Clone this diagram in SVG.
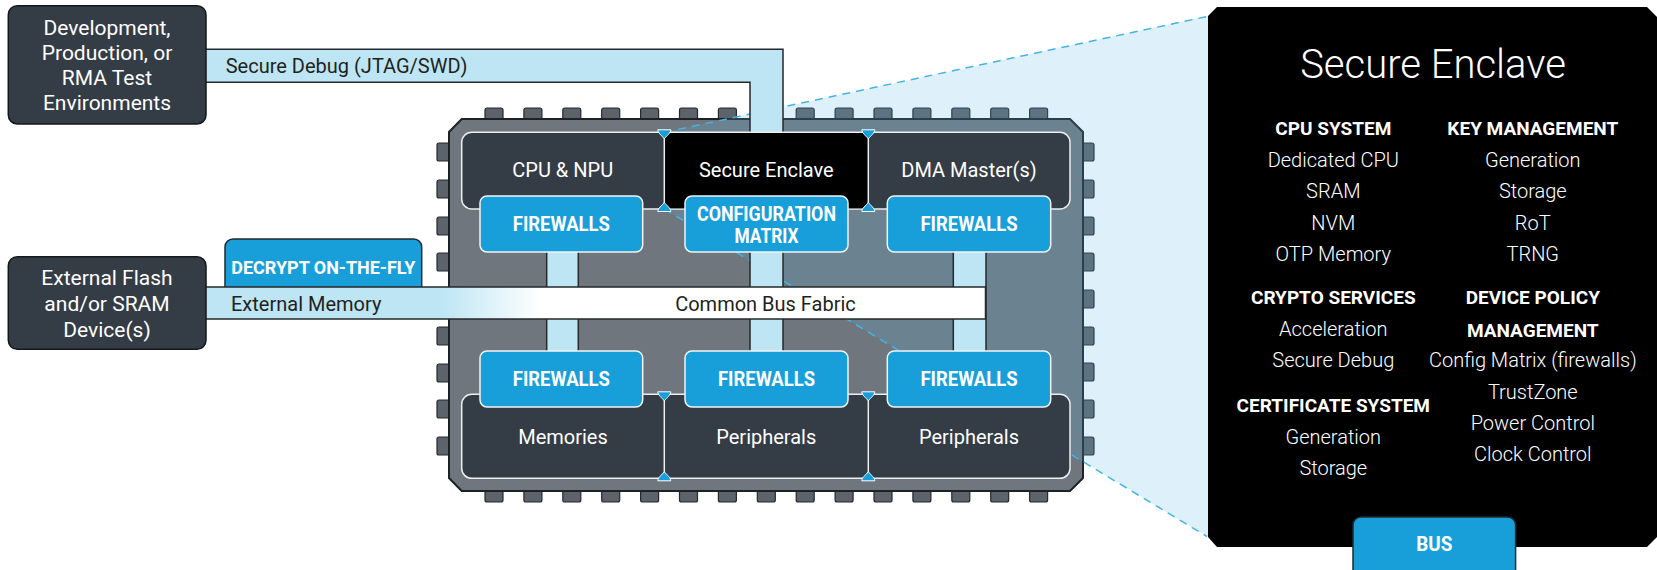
<svg xmlns="http://www.w3.org/2000/svg" width="1657" height="570" viewBox="0 0 1657 570">
<defs>
<style>
text{font-family:Roboto,"Liberation Sans",sans-serif}
.lbl{font-size:20px;fill:#fff;text-anchor:middle}
.lbl21{font-size:21px;fill:#fff;text-anchor:middle}
.dk{font-size:20px;fill:#231f20}
.bl{font-weight:700;font-size:20px;fill:#fff;text-anchor:middle}
.pin{fill:#5d636a;stroke:#25292d;stroke-width:1.2}
.bus{fill:#bde5f3;stroke:#25292d;stroke-width:1.5}
.fw{fill:#189fda;stroke:#f2f4f6;stroke-width:1.5}
.dash{stroke:#45b4e4;stroke-width:1.5;stroke-dasharray:8 6;fill:none}
.ext{fill:#343c46;stroke:#15181b;stroke-width:1.5}
.row{fill:#343c46;stroke:#eceef0;stroke-width:1.5}
.sep{stroke:#eceef0;stroke-width:1.5}
.mk{fill:#189fda;stroke:#fff;stroke-width:1}
.pl{font-size:20px;font-weight:300;fill:#fff;text-anchor:middle}
.title{font-size:40px;font-weight:300;fill:#fff;text-anchor:middle}
.ph{font-size:19px;font-weight:700;fill:#fff;text-anchor:middle}
</style>
<linearGradient id="gm" gradientUnits="userSpaceOnUse" x1="206" y1="0" x2="985" y2="0">
<stop offset="0.3" stop-color="#bde5f3"/><stop offset="0.43" stop-color="#ffffff"/>
</linearGradient>
<path id="mkd" d="M-6.5,-2.5 H6.5 C6.5,0.5 2.5,3.5 0,6.5 C-2.5,3.5 -6.5,0.5 -6.5,-2.5 Z"/>
</defs>

<g id="chip">
<g id="pins-top">
<rect class="pin" x="485" y="108" width="18" height="13" rx="2"/><rect class="pin" x="523.9" y="108" width="18" height="13" rx="2"/><rect class="pin" x="562.8" y="108" width="18" height="13" rx="2"/><rect class="pin" x="601.7" y="108" width="18" height="13" rx="2"/><rect class="pin" x="640.6" y="108" width="18" height="13" rx="2"/><rect class="pin" x="679.5" y="108" width="18" height="13" rx="2"/><rect class="pin" x="718.4" y="108" width="18" height="13" rx="2"/><rect class="pin" x="796.2" y="108" width="18" height="13" rx="2"/><rect class="pin" x="835.1" y="108" width="18" height="13" rx="2"/><rect class="pin" x="874" y="108" width="18" height="13" rx="2"/><rect class="pin" x="912.9" y="108" width="18" height="13" rx="2"/><rect class="pin" x="951.8" y="108" width="18" height="13" rx="2"/><rect class="pin" x="990.7" y="108" width="18" height="13" rx="2"/><rect class="pin" x="1029.6" y="108" width="18" height="13" rx="2"/>
</g>
<g id="pins-bottom">
<rect class="pin" x="485" y="489" width="18" height="13" rx="2"/><rect class="pin" x="523.9" y="489" width="18" height="13" rx="2"/><rect class="pin" x="562.8" y="489" width="18" height="13" rx="2"/><rect class="pin" x="601.7" y="489" width="18" height="13" rx="2"/><rect class="pin" x="640.6" y="489" width="18" height="13" rx="2"/><rect class="pin" x="679.5" y="489" width="18" height="13" rx="2"/><rect class="pin" x="718.4" y="489" width="18" height="13" rx="2"/><rect class="pin" x="757.3" y="489" width="18" height="13" rx="2"/><rect class="pin" x="796.2" y="489" width="18" height="13" rx="2"/><rect class="pin" x="835.1" y="489" width="18" height="13" rx="2"/><rect class="pin" x="874" y="489" width="18" height="13" rx="2"/><rect class="pin" x="912.9" y="489" width="18" height="13" rx="2"/><rect class="pin" x="951.8" y="489" width="18" height="13" rx="2"/><rect class="pin" x="990.7" y="489" width="18" height="13" rx="2"/><rect class="pin" x="1029.6" y="489" width="18" height="13" rx="2"/>
</g>
<g id="pins-left">
<rect class="pin" x="437" y="143" width="14" height="18" rx="2"/><rect class="pin" x="437" y="180" width="14" height="18" rx="2"/><rect class="pin" x="437" y="217" width="14" height="18" rx="2"/><rect class="pin" x="437" y="253" width="14" height="18" rx="2"/><rect class="pin" x="437" y="327" width="14" height="18" rx="2"/><rect class="pin" x="437" y="364" width="14" height="18" rx="2"/><rect class="pin" x="437" y="400" width="14" height="18" rx="2"/><rect class="pin" x="437" y="437" width="14" height="18" rx="2"/>
</g>
<g id="pins-right">
<rect class="pin" x="1081" y="143" width="13" height="18" rx="2"/><rect class="pin" x="1081" y="180" width="13" height="18" rx="2"/><rect class="pin" x="1081" y="217" width="13" height="18" rx="2"/><rect class="pin" x="1081" y="253" width="13" height="18" rx="2"/><rect class="pin" x="1081" y="290" width="13" height="18" rx="2"/><rect class="pin" x="1081" y="327" width="13" height="18" rx="2"/><rect class="pin" x="1081" y="363" width="13" height="18" rx="2"/><rect class="pin" x="1081" y="400" width="13" height="18" rx="2"/><rect class="pin" x="1081" y="437" width="13" height="18" rx="2"/>
</g>
<polygon id="chip-body" points="461.7,119 1070,119 1083,132 1083,478 1070,491 461.7,491 449,478 449,132" fill="#70767d" stroke="#1e2226" stroke-width="2"/>
</g>

<polygon id="projection" points="664.3,132.3 1208,16 1208,537 664.3,209" fill="#59b6e0" fill-opacity="0.2"/>

<g id="connectors">
<line class="dash" x1="664.3" y1="132.3" x2="1207" y2="16.5"/>
<line class="dash" x1="664.3" y1="209" x2="1207" y2="536.5"/>
<rect class="bus" x="546.7" y="245" width="31.6" height="112"/>
<rect class="bus" x="750" y="245" width="33" height="112"/>
<rect class="bus" x="953.3" y="245" width="32.7" height="112"/>
<path id="secure-debug" class="bus" d="M200,49.3 H783 V140 H750 V82.3 H200 Z"/>
<text class="dk" x="225.7" y="73.3">Secure Debug (JTAG/SWD)</text>
</g>

<g id="decrypt">
<rect x="225" y="239" width="196.7" height="60" rx="8" fill="#189fda" stroke="#23282d" stroke-width="1.5"/>
<text class="bl" x="323.3" y="274" style="font-size:19px" textLength="184" lengthAdjust="spacingAndGlyphs">DECRYPT ON-THE-FLY</text>
</g>

<g id="bus-fabric">
<rect x="200" y="287" width="785.5" height="32" fill="url(#gm)" stroke="#25292d" stroke-width="1.5"/>
<text class="dk" x="231" y="310.7">External Memory</text>
<text class="dk" x="765.5" y="310.7" text-anchor="middle">Common Bus Fabric</text>
</g>

<g id="top-row">
<rect class="row" x="461.7" y="132.3" width="608.3" height="76.7" rx="10"/>
<rect x="664.3" y="133" width="204" height="75.3" fill="#000"/>
<line class="sep" x1="664.3" y1="132.3" x2="664.3" y2="209"/>
<line class="sep" x1="868.3" y1="132.3" x2="868.3" y2="209"/>
<text class="lbl" x="562.7" y="177">CPU &amp; NPU</text>
<text class="lbl" x="766.3" y="177">Secure Enclave</text>
<text class="lbl" x="969" y="177">DMA Master(s)</text>
</g>

<g id="bottom-row">
<rect class="row" x="461.7" y="394.3" width="608.3" height="84" rx="10"/>
<line class="sep" x1="664.3" y1="394.3" x2="664.3" y2="478.3"/>
<line class="sep" x1="868.3" y1="394.3" x2="868.3" y2="478.3"/>
<text class="lbl" x="563" y="444">Memories</text>
<text class="lbl" x="766.3" y="444">Peripherals</text>
<text class="lbl" x="969" y="444">Peripherals</text>
</g>

<g id="firewalls-top">
<rect class="fw" x="480" y="196" width="162.7" height="56" rx="7"/>
<text class="bl" x="561.3" y="231" textLength="97" lengthAdjust="spacingAndGlyphs">FIREWALLS</text>
</g>
<g id="config-matrix">
<rect class="fw" x="685" y="196" width="163" height="56" rx="7"/>
<text class="bl" x="766.5" y="220.7" textLength="139" lengthAdjust="spacingAndGlyphs">CONFIGURATION</text>
<text class="bl" x="766.5" y="243.3" textLength="64" lengthAdjust="spacingAndGlyphs">MATRIX</text>
</g>
<g id="firewalls-top-right">
<rect class="fw" x="887.3" y="196" width="163.4" height="56" rx="7"/>
<text class="bl" x="969" y="231" textLength="97" lengthAdjust="spacingAndGlyphs">FIREWALLS</text>
</g>
<g id="firewalls-bottom-left">
<rect class="fw" x="480" y="351" width="162.7" height="56" rx="7"/>
<text class="bl" x="561.3" y="386" textLength="97" lengthAdjust="spacingAndGlyphs">FIREWALLS</text>
</g>
<g id="firewalls-bottom-mid">
<rect class="fw" x="685" y="351" width="163" height="56" rx="7"/>
<text class="bl" x="766.5" y="386" textLength="97" lengthAdjust="spacingAndGlyphs">FIREWALLS</text>
</g>
<g id="firewalls-bottom-right">
<rect class="fw" x="887.3" y="351" width="163.4" height="56" rx="7"/>
<text class="bl" x="969" y="386" textLength="97" lengthAdjust="spacingAndGlyphs">FIREWALLS</text>
</g>

<g id="markers">
<use href="#mkd" class="mk" transform="translate(664.3,132.3)"/>
<use href="#mkd" class="mk" transform="translate(868.3,132.3)"/>
<use href="#mkd" class="mk" transform="translate(664.3,209) scale(1,-1)"/>
<use href="#mkd" class="mk" transform="translate(868.3,209) scale(1,-1)"/>
<use href="#mkd" class="mk" transform="translate(664.3,394.3)"/>
<use href="#mkd" class="mk" transform="translate(868.3,394.3)"/>
<use href="#mkd" class="mk" transform="translate(664.3,478.3) scale(1,-1)"/>
<use href="#mkd" class="mk" transform="translate(868.3,478.3) scale(1,-1)"/>
</g>

<g id="test-env">
<rect class="ext" x="8.3" y="5.7" width="197.7" height="118.3" rx="9"/>
<text class="lbl21" x="107" y="34.5">Development,</text>
<text class="lbl21" x="107" y="59.8">Production, or</text>
<text class="lbl21" x="107" y="85.1">RMA Test</text>
<text class="lbl21" x="107" y="110.4">Environments</text>
</g>

<g id="ext-flash">
<rect class="ext" x="8.3" y="256.7" width="197.7" height="92.6" rx="9"/>
<text class="lbl21" x="107" y="285">External Flash</text>
<text class="lbl21" x="107" y="311">and/or SRAM</text>
<text class="lbl21" x="107" y="336.7">Device(s)</text>
</g>

<g id="enclave-panel">
<polygon points="1217,7 1647,7 1657,17 1657,537 1647,547 1217,547 1208,537 1208,16" fill="#000"/>
<text class="title" x="1433" y="78.3">Secure Enclave</text>
<text class="ph" x="1333.3" y="135">CPU SYSTEM</text>
<text class="pl" x="1333.3" y="166.5">Dedicated CPU</text>
<text class="pl" x="1333.3" y="198">SRAM</text>
<text class="pl" x="1333.3" y="229.5">NVM</text>
<text class="pl" x="1333.3" y="261">OTP Memory</text>
<text class="ph" x="1333.3" y="304">CRYPTO SERVICES</text>
<text class="pl" x="1333.3" y="336">Acceleration</text>
<text class="pl" x="1333.3" y="367.3">Secure Debug</text>
<text class="ph" x="1333.3" y="411.7">CERTIFICATE SYSTEM</text>
<text class="pl" x="1333.3" y="444.3">Generation</text>
<text class="pl" x="1333.3" y="475">Storage</text>
<text class="ph" x="1532.8" y="135">KEY MANAGEMENT</text>
<text class="pl" x="1532.8" y="166.5">Generation</text>
<text class="pl" x="1532.8" y="198">Storage</text>
<text class="pl" x="1532.8" y="229.5">RoT</text>
<text class="pl" x="1532.8" y="261">TRNG</text>
<text class="ph" x="1532.8" y="304">DEVICE POLICY</text>
<text class="ph" x="1532.8" y="336.7">MANAGEMENT</text>
<text class="pl" x="1532.8" y="367.3">Config Matrix (firewalls)</text>
<text class="pl" x="1532.8" y="399">TrustZone</text>
<text class="pl" x="1532.8" y="430">Power Control</text>
<text class="pl" x="1532.8" y="461">Clock Control</text>
</g>

<g id="bus">
<rect x="1353" y="517" width="162.6" height="70" rx="8" fill="#189fda" stroke="#23282d" stroke-width="1.5"/>
<text class="bl" x="1434.3" y="551" textLength="36" lengthAdjust="spacingAndGlyphs">BUS</text>
</g>
</svg>
